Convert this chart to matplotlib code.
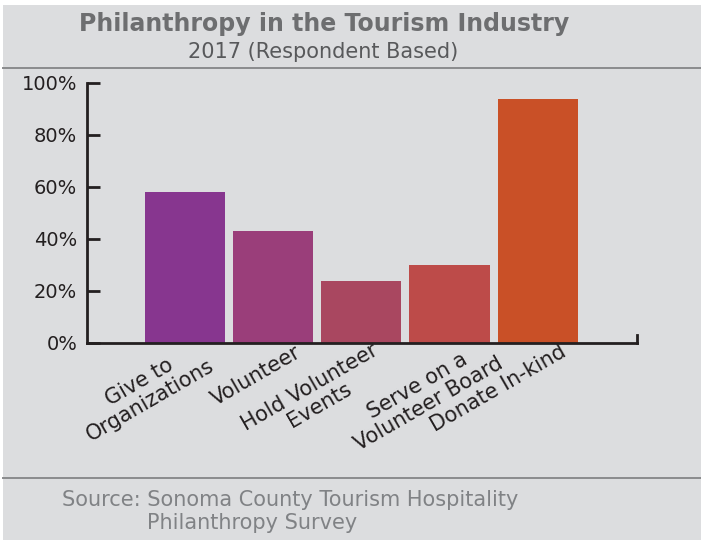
import matplotlib.pyplot as plt
import matplotlib.transforms as mtransforms
from matplotlib.patches import Rectangle
from matplotlib.lines import Line2D

# survey results
categories = ["Give to\nOrganizations", "Volunteer", "Hold Volunteer\nEvents",
              "Serve on a\nVolunteer Board", "Donate In-kind"]
shares = [58, 43, 24, 30, 94]
bar_colors = ["#87368f", "#9a3e7a", "#a94760", "#bd4b49", "#c95027"]
yticks = [0, 20, 40, 60, 80, 100]
# nudge (px right, px down) of each slanted category label
label_nudge = [(12, -7), (21, -2), (10, -4), (36, -9), (22, -3)]

bg = "#dcdddf"
ink = "#231f20"

plt.rcParams['font.family'] = ['DejaVu Sans']

fig = plt.figure(figsize=(7.01, 5.40), dpi=100, facecolor="white")
# panel background with a thin white margin at top and left
fig.patches.append(Rectangle((3 / 701, 0), 1, 1 - 5 / 540, transform=fig.transFigure,
                             facecolor=bg, edgecolor="none", zorder=-5))
for yy in (1 - 68 / 540, 1 - 478 / 540):
    fig.lines.append(Line2D([3 / 701, 1], [yy, yy], transform=fig.transFigure,
                            color="#8a8b8d", lw=1.4))

fig.text(0.462, 1 - 24 / 540, "Philanthropy in the Tourism Industry", ha="center", va="center",
         fontsize=17, fontweight="bold", color="#6d6e70")
fig.text(0.461, 1 - 52 / 540, "2017 (Respondent Based)", ha="center", va="center",
         fontsize=15, color="#58595b")

ax = fig.add_axes([87 / 701, 197 / 540, 550 / 701, 260 / 540])
ax.set_facecolor("none")
x = range(len(categories))
ax.bar(x, shares, width=0.91, color=bar_colors, zorder=2)

ax.set_xlim(-1.11, 5.125)
ax.set_ylim(0, 100)
ax.set_yticks(yticks)
ax.set_yticklabels([f"{v}%" for v in yticks])
ax.set_xticks(list(x))
ax.set_xticklabels(categories, rotation=30, ha="right", rotation_mode="anchor",
                   multialignment="center", linespacing=1.05)

ax.spines["top"].set_visible(False)
for s in ("left", "bottom", "right"):
    ax.spines[s].set_color(ink)
    ax.spines[s].set_linewidth(2.0)
    ax.spines[s].set_zorder(3)
# short upturn at the right end of the baseline
ax.spines["right"].set_bounds(0, 3)

ax.tick_params(axis="y", direction="in", length=9.5, width=2.0, color=ink,
               labelsize=14, labelcolor=ink, pad=7)
ax.tick_params(axis="x", length=0, labelsize=15, labelcolor=ink, pad=1)
for lbl, (dx, dy) in zip(ax.get_xticklabels(), label_nudge):
    shift = mtransforms.ScaledTranslation(dx / 100, -dy / 100, fig.dpi_scale_trans)
    lbl.set_transform(lbl.get_transform() + shift)

fig.text(62 / 701, 1 - 500 / 540, "Source: Sonoma County Tourism Hospitality",
         ha="left", va="center", fontsize=15, color="#808285")
fig.text(147 / 701, 1 - 523 / 540, "Philanthropy Survey",
         ha="left", va="center", fontsize=15, color="#808285")

fig.savefig("out.png", dpi=100, facecolor=fig.get_facecolor())
